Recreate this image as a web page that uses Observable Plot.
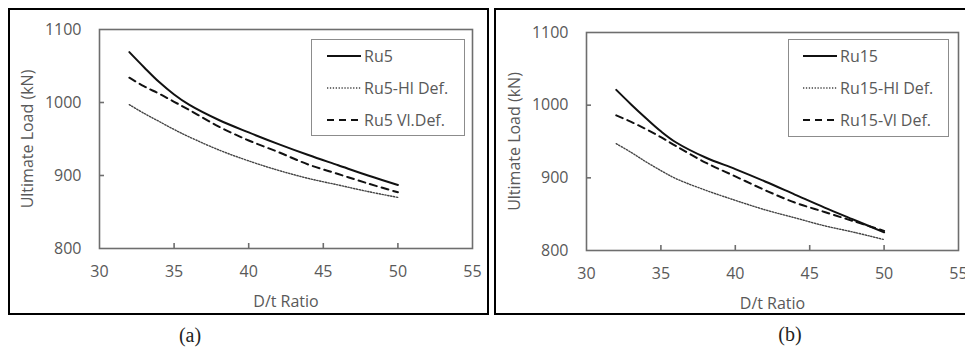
<!DOCTYPE html>
<html>
<head>
<meta charset="utf-8">
<script src="https://cdn.jsdelivr.net/npm/d3@7"></script>
<script src="https://cdn.jsdelivr.net/npm/@observablehq/plot@0.6"></script>
<style>
  html, body { margin: 0; padding: 0; background: #fff; width: 965px; height: 350px; overflow: hidden; position: relative; }
  .frame { position: absolute; border: 2px solid #000; box-sizing: border-box; }
  .chart { position: absolute; top: 0; }
  .legend { position: absolute; border: 1px solid #8c8c8c; box-sizing: border-box; background: #fff; font-family: "Open Sans", sans-serif; font-size: 16px; color: #595959; }
  .legend .row { position: absolute; left: 0; height: 20px; display: flex; align-items: center; white-space: nowrap; }
  .legend svg { display: block; margin-right: 3px; }
  .caption { position: absolute; font-family: "Liberation Serif", "DejaVu Serif", serif; font-size: 20px; color: #222; transform: translate(-50%, -50%); }
</style>
</head>
<body>
<div class="frame" style="left:8px; top:8px; width:481px; height:307px;"></div>
<div class="frame" style="left:494px; top:8px; width:520px; height:307px;"></div>
<div id="a" class="chart" style="left:0px;"></div>
<div id="b" class="chart" style="left:490px;"></div>
<div class="caption" style="left:190px; top:335px;">(a)</div>
<div class="caption" style="left:790px; top:334px;">(b)</div>
<script>
// D/t ratio sample points
const dt = [32, 33, 34, 35, 36, 38, 40, 42, 44, 46, 48, 50];
// Panel (a)
const ru5      = [1069, 1048, 1028, 1011, 997, 976, 959, 943, 928, 914, 900, 887];
const ru5Hl    = [997, 985, 974, 963, 953, 935, 920, 907, 896, 887, 878, 870];
const ru5Vl    = [1034, 1022, 1012, 1001, 990, 967, 948, 932, 915, 902, 889, 877];
// Panel (b)
const ru15     = [1021, 1001, 982, 964, 949, 928, 912, 895, 877, 859, 842, 825];
const ru15Hl   = [947, 935, 922, 910, 899, 883, 869, 856, 845, 834, 825, 815];
const ru15Vl   = [986, 977, 967, 956, 944, 921, 902, 883, 866, 853, 840, 827];
const xTicks = [30, 35, 40, 45, 50, 55];
const yTicks = [800, 900, 1000, 1100];
const namesA = ["Ru5", "Ru5-Hl Def.", "Ru5 Vl.Def."];
const namesB = ["Ru15", "Ru15-Hl Def.", "Ru15-Vl Def."];
const xTitle = "D/t Ratio";
const yTitle = "Ultimate Load (kN)";

const styles = [
  {stroke: "#111", strokeWidth: 2},
  {stroke: "#444", strokeWidth: 1.4, strokeDasharray: "1.3 1.6"},
  {stroke: "#111", strokeWidth: 2, strokeDasharray: "7 5"}
];

function rows(series) {
  return series.map(vals => dt.map((x, i) => ({x, y: vals[i]})));
}

function makeChart(series, dims) {
  const {width, height, mt, mb, ml, mr} = dims;
  const innerH = height - mt - mb;
  const innerW = width - ml - mr;
  const data = rows(series);
  const marks = [
    Plot.frame({stroke: "#6e6e6e", strokeWidth: 1.6}),
    Plot.tickX(xTicks.slice(1, -1), {x: d => d, stroke: "#6e6e6e", strokeWidth: 1.6, insetTop: innerH - 5}),
    Plot.tickY(yTicks.slice(1, -1), {y: d => d, stroke: "#6e6e6e", strokeWidth: 1.6, insetRight: innerW - 5}),
    Plot.axisX({ticks: xTicks, tickSize: 0, tickPadding: 17, tickFormat: d => String(d), label: xTitle, labelAnchor: "center", labelOffset: 58, labelArrow: "none"}),
    Plot.axisY({ticks: yTicks, tickSize: 0, tickPadding: 18, tickFormat: d => String(d), label: yTitle, labelAnchor: "center", labelOffset: 78, labelArrow: "none"})
  ];
  data.forEach((d, i) => {
    marks.push(Plot.line(d, {x: "x", y: "y", curve: "catmull-rom", ...styles[i]}));
  });
  return Plot.plot({
    width, height,
    marginTop: mt, marginBottom: mb, marginLeft: ml, marginRight: mr,
    x: {domain: [30, 55]},
    y: {domain: [800, 1100]},
    style: {fontFamily: "Open Sans, sans-serif", fontSize: "16px", color: "#595959", background: "transparent", overflow: "visible"},
    marks
  });
}

document.getElementById("a").append(makeChart([ru5, ru5Hl, ru5Vl], {width: 488, height: 316, mt: 29, mb: 68, ml: 99, mr: 16}));
document.getElementById("b").append(makeChart([ru15, ru15Hl, ru15Vl], {width: 475, height: 316, mt: 32, mb: 66, ml: 96, mr: 7}));

function makeLegend(names, box) {
  const div = document.createElement("div");
  div.className = "legend";
  div.style.left = box.left + "px";
  div.style.top = box.top + "px";
  div.style.width = box.width + "px";
  div.style.height = box.height + "px";
  names.forEach((name, i) => {
    const row = document.createElement("div");
    row.className = "row";
    row.style.left = box.pad + "px";
    row.style.top = (box.first + i * 32 - 10) + "px";
    const s = styles[i];
    row.innerHTML = `<svg width="34" height="20"><line x1="0" x2="34" y1="10" y2="10" stroke="${s.stroke}" stroke-width="${s.strokeWidth}" ${s.strokeDasharray ? `stroke-dasharray="${s.strokeDasharray}"` : ""}/></svg><span>${name}</span>`;
    div.append(row);
  });
  document.body.append(div);
}
makeLegend(namesA, {left: 311, top: 39, width: 154, height: 97, pad: 15, first: 16});
makeLegend(namesB, {left: 788, top: 39, width: 161, height: 98, pad: 14, first: 16});
</script>
</body>
</html>
